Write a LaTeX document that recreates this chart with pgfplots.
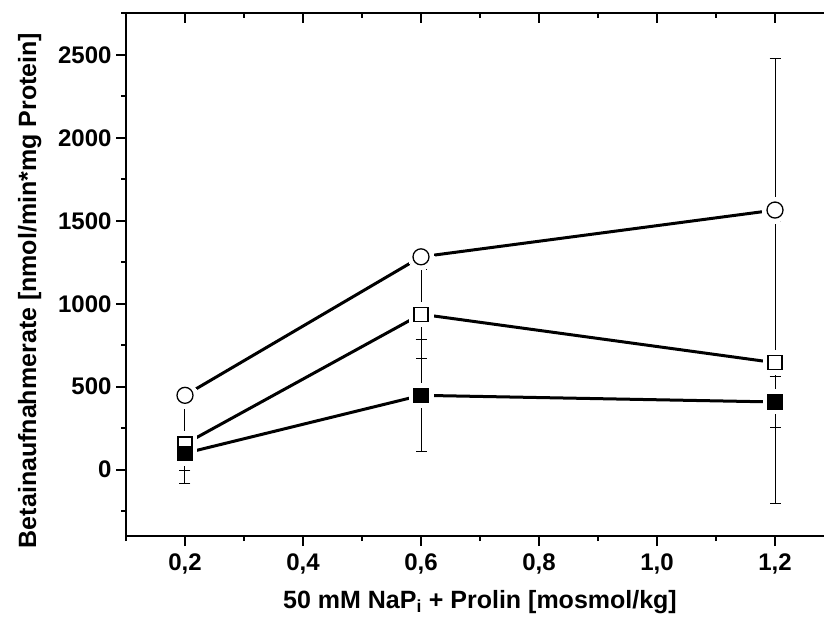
\documentclass[border=0pt]{standalone}
\usepackage{fontspec}
\setmainfont{Liberation Sans}
\usepackage{pgfplots}
\usepackage{pgfplotstable}
\pgfplotsset{compat=1.18}
\pgfplotstableread{
x y e
0.2 448 40
0.6 1283 30
1.2 1565 915
}\tabA
\pgfplotstableread{
x y e
0.2 155 236
0.6 937 267
1.2 645 852
}\tabB
\pgfplotstableread{
x y e
0.2 99 107
0.6 448 336
1.2 408 155
}\tabC
\begin{document}
\begin{tikzpicture}[x=1pt,y=1pt]
\pgfplotsset{
 base/.style={scale only axis, width=708pt, height=522.5pt,
  xmin=0.1, xmax=1.3, ymin=-400, ymax=2750,
  xtick={0.2,0.4,0.6,0.8,1.0,1.2},
  minor xtick={0.1,0.3,0.5,0.7,0.9,1.1,1.3},
  ytick={0,500,1000,1500,2000,2500},
  minor ytick={-250,250,750,1250,1750,2250,2750},
  axis line style={line width=2pt,-},
  major tick length=10pt, minor tick length=5pt,
  tick style={line width=2pt, black},
  clip=false,
 },
 ebar/.style={black, mark size=0pt, mark=*, only marks,
  error bars/.cd, y dir=both, y explicit, error mark=-,
  error bar style={line width=1pt, black},
  error mark options={rotate=90, mark size=5.5pt, line width=1pt, black}},
}
\begin{axis}[base, axis x line*=bottom, axis y line*=left, tick align=outside,
  /pgf/number format/assume math mode=true,
  x tick label style={/pgf/number format/fixed, /pgf/number format/fixed zerofill, /pgf/number format/precision=1, /pgf/number format/use comma, yshift=-4pt},
  y tick label style={/pgf/number format/1000 sep={}, xshift=-1pt},
  ticklabel style={font=\bfseries\fontsize{24}{28}\selectfont},
  xlabel={50 mM NaP\textsubscript{i} + Prolin [mosmol/kg]},
  ylabel={Betainaufnahmerate [nmol/min*mg Protein]},
  xlabel style={font=\bfseries\fontsize{25}{30}\selectfont, at={(axis description cs:0.5,-0.126)}, anchor=center},
  ylabel style={font=\bfseries\fontsize{25}{30}\selectfont, at={(axis description cs:-0.136,0.47)}, anchor=center},
]
% connecting lines
\addplot[line width=3pt, black, no marks] table {\tabA};
\addplot[line width=3pt, black, no marks] table {\tabB};
\addplot[line width=3pt, black, no marks] table {\tabC};
% white halos (gap between line and marker)
\addplot[white, only marks, mark=*, mark size=13pt, mark options={draw=white, fill=white, line width=0pt}] table {\tabA};
\addplot[white, only marks, mark=square*, mark size=12pt, mark options={draw=white, fill=white, line width=0pt}] table {\tabB};
\addplot[white, only marks, mark=square*, mark size=12pt, mark options={draw=white, fill=white, line width=0pt}] table {\tabC};
% error bars
\addplot[ebar] table[y error=e] {\tabA};
\addplot[ebar] table[y error=e] {\tabB};
\addplot[ebar] table[y error=e] {\tabC};
% markers
\addplot[black, only marks, mark=*, mark size=8pt, mark options={draw=black, fill=white, line width=1.3pt}] table {\tabA};
\addplot[black, only marks, mark=square*, mark size=7pt, mark options={draw=black, fill=white, line width=1.3pt}] table {\tabB};
\addplot[black, only marks, mark=square*, mark size=7pt, mark options={draw=black, fill=black, line width=1.3pt}] table {\tabC};
\end{axis}
\begin{axis}[base, axis x line*=top, axis y line*=right, tick align=inside,
  xticklabels={}, yticklabels={}]
\end{axis}
\pgfresetboundingbox
\useasboundingbox (-126,-87) rectangle (698,536);
\end{tikzpicture}
\end{document}
